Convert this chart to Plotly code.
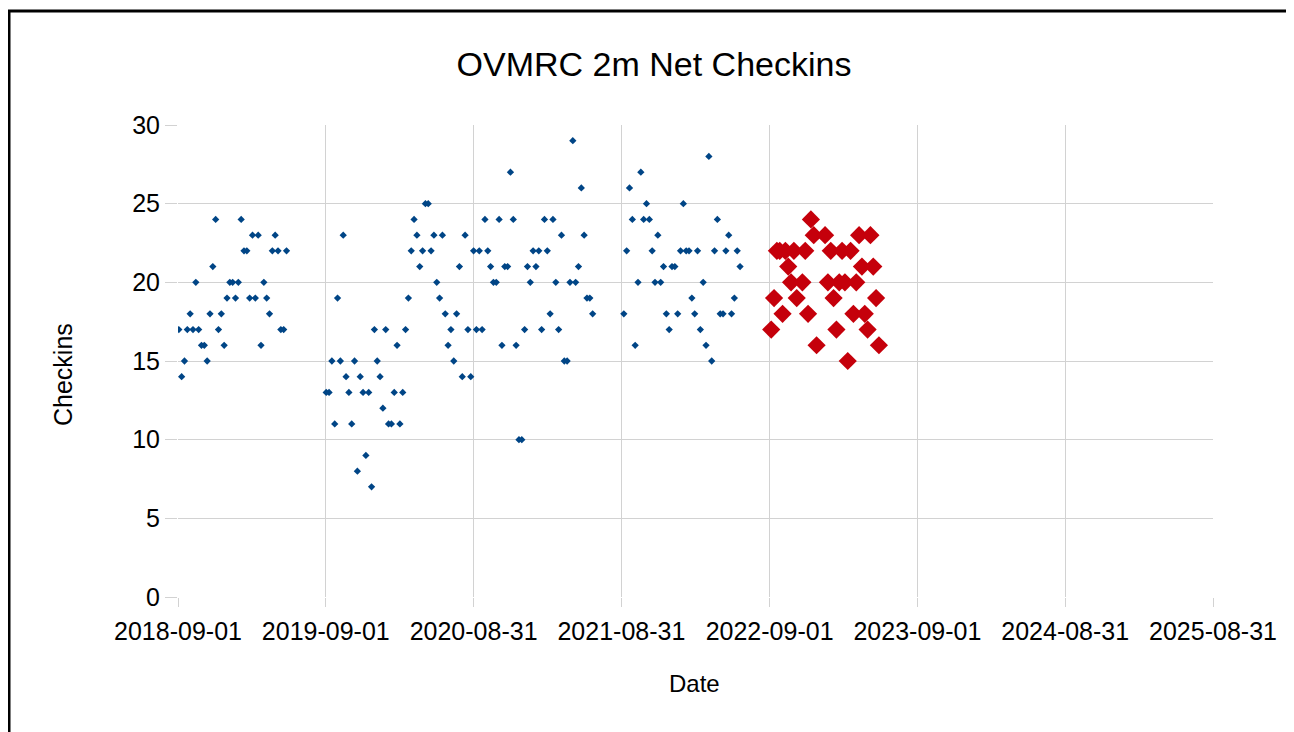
import pandas as pd
import plotly.graph_objects as go

# ---- data (weekly Monday nets; None = no point plotted that week) ----
season_2018_start = "2018-09-03"
season_2018 = [17, 14, 15, 17, 18, 17, 20, 17, 16, 16, 15, 18, 21, 24, 17, 18, 16, 19, 20, 20,
               19, 20, 24, 22, 22, 19, 23, 19, 23, 16, 20, 19, 18, 22, 23, 22, 17, 17, 22]

season_2019_start = "2019-09-02"
season_2019 = [13, 13, 15, 11, 19, 15, 23, 14, 13, 11,
               15, 8, 14, 13, 9, 13, 7, 17, 15, 14,
               12, 17, 11, 11, 13, 16, 11, 13, 17, 19,
               22, 24, 23, 21, 22, 25, 25, 22, 23, 20,
               19, 23, 18, 16, 17, 15, 18, 21, 14, 23,
               17, 14, 22, 17, 22, 17, 24, 22, 21, 20,
               20, 24, 16, 21, 21, 27, 24, 16, 10, 10,
               17, 21, 20, 22, 21, 22, 17, 24, 22, 18,
               24, 20, 17, 23, 15, 15, 20, 29, 20, 21,
               26, 23, 19, 19, 18]

season_2021_start = "2021-09-06"
season_2021 = [18, 22, 26, 24, 16, 20, 27, 24, 25, 24,
               22, 20, 23, 20, 21, 18, 17, 21, 21, 18,
               22, 25, 22, 22, 19, 18, 22, 17, 20, 16,
               28, 15, 22, 24, 18, 18, 22, 23, 18, 19,
               22, 21]

season_2022_start = "2022-09-05"
season_2022 = [17, 19, 22, 22, 18, 22, 21, 20, 22, 19,
               None, 20, 22, 18, 24, 23, 16, None, None, 23,
               20, 22, 19, 17, 20, 22, 20, 15, 22, 18,
               20, 23, 21, 18, 17, 23, 21, 19, 16]

x_tick_labels = ["2018-09-01", "2019-09-01", "2020-08-31", "2021-08-31",
                 "2022-09-01", "2023-09-01", "2024-08-31", "2025-08-31"]
y_ticks = [0, 5, 10, 15, 20, 25, 30]


def weekly(start, vals):
    dates = pd.date_range(start, periods=len(vals), freq="7D")
    pairs = [(d, v) for d, v in zip(dates, vals) if v is not None]
    return [p[0] for p in pairs], [p[1] for p in pairs]


bx, by = [], []
for s, v in [(season_2018_start, season_2018), (season_2019_start, season_2019),
             (season_2021_start, season_2021)]:
    dx, dy = weekly(s, v)
    bx += dx
    by += dy
rx, ry = weekly(season_2022_start, season_2022)

FONT = "Liberation Sans, Arial, sans-serif"
GRID = "#d2d2d2"

fig = go.Figure()
fig.add_trace(go.Scatter(x=bx, y=by, mode="markers", name="Checkins",
                         marker=dict(symbol="diamond", size=5.6, color="#004586",
                                     line=dict(width=0))))
fig.add_trace(go.Scatter(x=rx, y=ry, mode="markers", name="Current",
                         marker=dict(symbol="diamond", size=14, color="#c5000b",
                                     line=dict(width=0))))

# page body has an 8px margin; work in reference-pixel coordinates and shift
OFF = 8
W, H = 1294 - OFF, 732 - OFF
L, R, T = 178 - OFF, 81, 125 - OFF
B = H - (597 - OFF)
pw, ph = W - L - R, H - T - B


def px_to_paper_x(px):
    return (px - OFF - L) / pw


def px_to_paper_y(py):
    return (H - B - (py - OFF)) / ph


fig.update_layout(
    width=W, height=H,
    margin=dict(l=L, r=R, t=T, b=B),
    paper_bgcolor="white", plot_bgcolor="white",
    showlegend=False,
    font=dict(family=FONT, color="#000000", size=24),
    title=dict(text="OVMRC 2m Net Checkins", font=dict(family=FONT, size=34, color="#000000"),
               x=(654 - OFF) / W, xref="container", xanchor="center",
               y=1 - (64 - OFF) / H, yref="container", yanchor="middle"),
    xaxis=dict(type="date", range=[x_tick_labels[0], x_tick_labels[-1]],
               tickmode="array", tickvals=x_tick_labels, ticktext=x_tick_labels,
               showgrid=True, gridcolor=GRID, gridwidth=1,
               ticks="outside", ticklen=9, tickcolor=GRID, tickwidth=1,
               ticklabelstandoff=3,
               tickfont=dict(family=FONT, size=25, color="#000000"),
               showline=False, zeroline=False),
    yaxis=dict(range=[0, 30], tickmode="array", tickvals=y_ticks,
               ticktext=[str(v) for v in y_ticks],
               showgrid=True, gridcolor=GRID, gridwidth=1,
               ticks="outside", ticklen=12, tickcolor=GRID, tickwidth=1,
               tickfont=dict(family=FONT, size=25, color="#000000"),
               showline=False, zeroline=False),
    annotations=[
        dict(text="Checkins", xref="paper", yref="paper",
             x=px_to_paper_x(63), y=px_to_paper_y(375), textangle=-90,
             showarrow=False, font=dict(family=FONT, size=25, color="#000000"),
             xanchor="center", yanchor="middle"),
        dict(text="Date", xref="paper", yref="paper",
             x=px_to_paper_x(694), y=px_to_paper_y(683),
             showarrow=False, font=dict(family=FONT, size=24, color="#000000"),
             xanchor="center", yanchor="middle"),
    ],
    shapes=[
        dict(type="rect", xref="paper", yref="paper",
             x0=px_to_paper_x(9), x1=px_to_paper_x(1310),
             y0=px_to_paper_y(760), y1=px_to_paper_y(11),
             line=dict(color="black", width=3), fillcolor="rgba(0,0,0,0)", layer="above"),
    ],
)

fig.write_html("out.html")
